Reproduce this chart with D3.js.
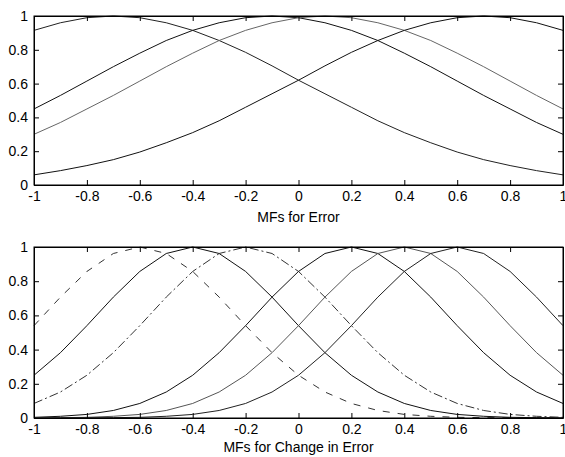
<!DOCTYPE html>
<html>
<head>
<meta charset="utf-8">
<script src="https://cdn.jsdelivr.net/npm/d3@7"></script>
<style>
    body { margin: 0; background: #fff; }
    svg { display: block; font-family: "Liberation Sans", Arial, sans-serif; }
    .tick text { font-size: 14px; fill: #000; }
    .axisLabel { font-size: 14px; fill: #000; }
</style>
</head>
<body>
<script>
// sample points shared by every membership function
const xGrid = [-1, -0.9, -0.8, -0.7, -0.6, -0.5, -0.4, -0.3, -0.2, -0.1, 0,
    0.1, 0.2, 0.3, 0.4, 0.5, 0.6, 0.7, 0.8, 0.9, 1];

const xTickValues = [-1, -0.8, -0.6, -0.4, -0.2, 0, 0.2, 0.4, 0.6, 0.8, 1];
const xTickLabels = ["-1", "-0.8", "-0.6", "-0.4", "-0.2", "0", "0.2", "0.4", "0.6", "0.8", "1"];
const yTickValues = [0, 0.2, 0.4, 0.6, 0.8, 1];
const yTickLabels = ["0", "0.2", "0.4", "0.6", "0.8", "1"];

// MFs for Error (top panel)
const errorNeg = [0.915, 0.96, 0.99, 1, 0.99, 0.96, 0.915, 0.855, 0.785, 0.705, 0.62,
    0.54, 0.46, 0.38, 0.31, 0.25, 0.195, 0.15, 0.115, 0.085, 0.06];
const errorNegSmall = [0.45, 0.53, 0.615, 0.70, 0.78, 0.855, 0.915, 0.96, 0.99, 1, 0.99,
    0.96, 0.915, 0.855, 0.78, 0.70, 0.615, 0.53, 0.45, 0.37, 0.30];
const errorPosSmall = [0.30, 0.37, 0.45, 0.53, 0.615, 0.70, 0.78, 0.855, 0.915, 0.96, 0.99,
    1, 0.99, 0.96, 0.915, 0.855, 0.78, 0.70, 0.615, 0.53, 0.45];
const errorPos = [0.06, 0.085, 0.115, 0.15, 0.195, 0.25, 0.31, 0.38, 0.46, 0.54, 0.62,
    0.705, 0.785, 0.855, 0.915, 0.96, 0.99, 1, 0.99, 0.96, 0.915];

// MFs for Change in Error (bottom panel)
const dErrNB = [0.54, 0.707, 0.857, 0.962, 1, 0.962, 0.857, 0.707, 0.54, 0.382, 0.25,
    0.152, 0.085, 0.044, 0.021, 0.01, 0.004, 0.002, 0.001, 0, 0];
const dErrNM = [0.25, 0.382, 0.54, 0.707, 0.857, 0.962, 1, 0.962, 0.857, 0.707, 0.54,
    0.382, 0.25, 0.152, 0.085, 0.044, 0.021, 0.01, 0.004, 0.002, 0.001];
const dErrNS = [0.085, 0.152, 0.25, 0.382, 0.54, 0.707, 0.857, 0.962, 1, 0.962, 0.857,
    0.707, 0.54, 0.382, 0.25, 0.152, 0.085, 0.044, 0.021, 0.01, 0.004];
const dErrPS = [0.004, 0.01, 0.021, 0.044, 0.085, 0.152, 0.25, 0.382, 0.54, 0.707, 0.857,
    0.962, 1, 0.962, 0.857, 0.707, 0.54, 0.382, 0.25, 0.152, 0.085];
const dErrPM = [0.001, 0.002, 0.004, 0.01, 0.021, 0.044, 0.085, 0.152, 0.25, 0.382, 0.54,
    0.707, 0.857, 0.962, 1, 0.962, 0.857, 0.707, 0.54, 0.382, 0.25];
const dErrPB = [0, 0, 0.001, 0.002, 0.004, 0.01, 0.021, 0.044, 0.085, 0.152, 0.25,
    0.382, 0.54, 0.707, 0.857, 0.962, 1, 0.962, 0.857, 0.707, 0.54];

var width = 565, height = 457;
var svg = d3.select("body").append("svg")
    .attr("width", width)
    .attr("height", height);

var x = d3.scaleLinear().domain([-1, 1]).range([34, 563]);

// draws one MATLAB style panel: boxed axes, inward ticks, curves, label
function drawPanel(top, bottom, series, label, labelY) {
    var y = d3.scaleLinear().domain([0, 1]).range([bottom, top]);
    var g = svg.append("g");

    var line = d3.line()
        .x(function (d, i) { return x(xGrid[i]); })
        .y(function (d) { return y(d); });

    for (var i = 0; i < series.length; i++) {
        g.append("path")
            .datum(series[i].values)
            .attr("d", line)
            .attr("fill", "none")
            .attr("stroke", series[i].color)
            .attr("stroke-width", 1)
            .attr("stroke-dasharray", series[i].dash);
    }

    g.append("g")
        .attr("transform", "translate(0," + bottom + ")")
        .call(d3.axisBottom(x).tickValues(xTickValues)
            .tickFormat(function (d, i) { return xTickLabels[i]; })
            .tickSizeInner(-5).tickSizeOuter(0).tickPadding(6));
    g.append("g")
        .attr("transform", "translate(0," + top + ")")
        .call(d3.axisTop(x).tickValues(xTickValues).tickFormat("")
            .tickSizeInner(-5).tickSizeOuter(0));
    g.append("g")
        .attr("transform", "translate(" + x(-1) + ",0)")
        .call(d3.axisLeft(y).tickValues(yTickValues)
            .tickFormat(function (d, i) { return yTickLabels[i]; })
            .tickSizeInner(-5).tickSizeOuter(0).tickPadding(6));
    g.append("g")
        .attr("transform", "translate(" + x(1) + ",0)")
        .call(d3.axisRight(y).tickValues(yTickValues).tickFormat("")
            .tickSizeInner(-5).tickSizeOuter(0));

    g.selectAll(".domain").attr("stroke", "#000");
    g.selectAll(".tick line").attr("stroke", "#000");

    g.append("rect")
        .attr("x", x(-1)).attr("y", top)
        .attr("width", x(1) - x(-1)).attr("height", bottom - top)
        .attr("fill", "none").attr("stroke", "#000").attr("stroke-width", 1);

    g.append("text")
        .classed("axisLabel", true)
        .attr("x", (x(-1) + x(1)) / 2)
        .attr("y", labelY)
        .attr("text-anchor", "middle")
        .text(label);
}

drawPanel(16, 185, [
    { values: errorNeg, color: "#222", dash: null },
    { values: errorNegSmall, color: "#111", dash: null },
    { values: errorPosSmall, color: "#666", dash: null },
    { values: errorPos, color: "#111", dash: null }
], "MFs for Error", 222);

drawPanel(247, 418, [
    { values: dErrNB, color: "#333", dash: "7,8" },
    { values: dErrNM, color: "#111", dash: null },
    { values: dErrNS, color: "#333", dash: "9,3,2,3" },
    { values: dErrPS, color: "#111", dash: null },
    { values: dErrPM, color: "#555", dash: null },
    { values: dErrPB, color: "#222", dash: null }
], "MFs for Change in Error", 452);
</script>
</body>
</html>
